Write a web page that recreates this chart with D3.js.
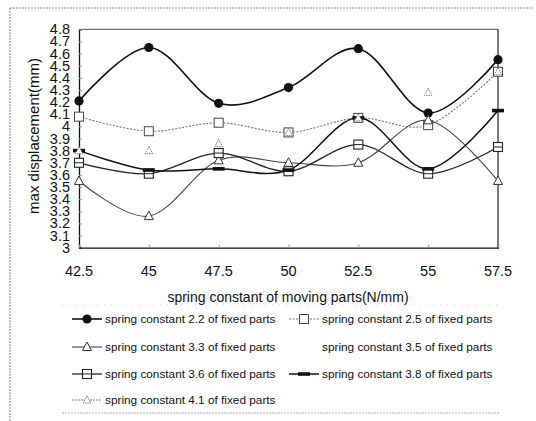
<!DOCTYPE html>
<html><head><meta charset="utf-8">
<script src="https://cdn.jsdelivr.net/npm/d3@7"></script>
<style>body{margin:0;background:#fff}svg{display:block}text{font-family:"Liberation Sans",Arial,sans-serif;fill:#111}</style>
</head><body><svg id="c" width="536" height="421"></svg>
<script>
const categories = ["42.5","45","47.5","50","52.5","55","57.5"];
const yTicks = [3,3.1,3.2,3.3,3.4,3.5,3.6,3.7,3.8,3.9,4,4.1,4.2,4.3,4.4,4.5,4.6,4.7,4.8];
const s22 = [4.21,4.65,4.19,4.32,4.64,4.11,4.55];
const s25 = [4.08,3.96,4.03,3.95,4.07,4.01,4.45];
const s33 = [3.55,3.26,3.72,3.70,3.70,4.05,3.55];
const s36 = [3.70,3.61,3.78,3.63,3.85,3.61,3.83];
const s38 = [3.80,3.64,3.65,3.64,4.07,3.65,4.13];
const s41 = [3.80,3.80,3.86,3.95,4.07,4.28,4.45];
const legendNames = ["spring constant 2.2 of fixed parts","spring constant 2.5 of fixed parts",
 "spring constant 3.3 of fixed parts","spring constant 3.5 of fixed parts",
 "spring constant 3.6 of fixed parts","spring constant 3.8 of fixed parts",
 "spring constant 4.1 of fixed parts"];
const xTitle = "spring constant of moving parts(N/mm)";
const yTitle = "max displacement(mm)";

const svg = d3.select("#c");
const L=79, R=498, T=29.3, B=247.7;
const x = d3.scalePoint().domain(categories).range([L,R]);
const y = d3.scaleLinear().domain([3,4.8]).range([B,T]);

// outer frame (scanned look)
svg.append("line").attr("x1",10).attr("x2",533).attr("y1",8).attr("y2",8).attr("stroke","#888").attr("stroke-dasharray","2,1");
svg.append("line").attr("x1",10).attr("x2",10).attr("y1",8).attr("y2",421).attr("stroke","#888").attr("stroke-dasharray","2,1");
svg.append("line").attr("x1",62).attr("x2",500).attr("y1",413).attr("y2",413).attr("stroke","#aaa").attr("stroke-dasharray","2,1");
svg.append("line").attr("x1",62).attr("x2",500).attr("y1",305).attr("y2",305).attr("stroke","#ccc").attr("stroke-dasharray","1,6");

// plot box
svg.append("line").attr("x1",L).attr("x2",R).attr("y1",T).attr("y2",T).attr("stroke","#555").attr("stroke-width",1);
svg.append("line").attr("x1",R).attr("x2",R).attr("y1",T).attr("y2",B).attr("stroke","#222").attr("stroke-width",1.2);

const ya = svg.append("g").attr("transform",`translate(${L},0)`)
  .call(d3.axisRight(y).tickValues(yTicks).tickSize(3).tickFormat(""));
ya.select(".domain").attr("stroke","#111").attr("stroke-width",1.3);
ya.selectAll(".tick line").attr("stroke","#999");
const xa = svg.append("g").attr("transform",`translate(0,${B})`)
  .call(d3.axisTop(x).tickSize(3).tickFormat(""));
xa.select(".domain").attr("stroke","#111").attr("stroke-width",1.3);
xa.selectAll(".tick line").attr("stroke","#999");

svg.append("g").selectAll("text").data(yTicks).join("text")
  .attr("x",70).attr("y",d=>y(d)+5).attr("text-anchor","end").attr("font-size",14.5)
  .text(d=>d3.format("")(d));
svg.append("g").selectAll("text").data(categories).join("text")
  .attr("x",d=>x(d)).attr("y",276).attr("text-anchor","middle").attr("font-size",14.5).text(d=>d);
svg.append("text").attr("x",288).attr("y",302).attr("text-anchor","middle").attr("font-size",14).text(xTitle);
svg.append("text").attr("transform","translate(39,136) rotate(-90)").attr("text-anchor","middle").attr("font-size",15).text(yTitle);

const line = d3.line().x((d,i)=>x(categories[i])).y(d=>y(d)).curve(d3.curveCardinal.tension(0));

const series = [
 {v:s22, stroke:"#111", w:1.6, dash:null, m:"circle"},
 {v:s25, stroke:"#777", w:1.1, dash:"2,1.5", m:"square"},
 {v:s33, stroke:"#444", w:1.1, dash:null, m:"tri"},
 {v:null, stroke:"none", w:0, dash:null, m:"none"},
 {v:s36, stroke:"#222", w:1.3, dash:null, m:"boxcross"},
 {v:s38, stroke:"#111", w:1.5, dash:null, m:"bar"},
 {v:s41, stroke:"#e4e4e4", w:0.5, dash:"1,4", m:"trismall"}
];

function marker(g, type, cx, cy){
  if(type==="circle") g.append("circle").attr("cx",cx).attr("cy",cy).attr("r",4.6).attr("fill","#111");
  else if(type==="square") g.append("rect").attr("x",cx-4.5).attr("y",cy-4.5).attr("width",9).attr("height",9).attr("fill","#fff").attr("stroke","#444").attr("stroke-width",1);
  else if(type==="tri") g.append("path").attr("d",`M${cx},${cy-5}L${cx+4.5},${cy+3.5}L${cx-4.5},${cy+3.5}Z`).attr("fill","#fff").attr("stroke","#333").attr("stroke-width",1);
  else if(type==="boxcross"){ g.append("rect").attr("x",cx-4.5).attr("y",cy-4.5).attr("width",9).attr("height",9).attr("fill","#fff").attr("stroke","#222").attr("stroke-width",1.1);
    g.append("path").attr("d",`M${cx-4.5},${cy}H${cx+4.5}`).attr("stroke","#222").attr("stroke-width",1);}
  else if(type==="bar") g.append("rect").attr("x",cx-6).attr("y",cy-1.8).attr("width",12).attr("height",3.6).attr("fill","#111");
  else if(type==="trismall") g.append("path").attr("d",`M${cx},${cy-4}L${cx+3.8},${cy+3}L${cx-3.8},${cy+3}Z`).attr("fill","#fff").attr("stroke","#666").attr("stroke-width",0.9).attr("stroke-dasharray","1.5,1");
}

const plot = svg.append("g");
series.forEach(s=>{
  if(!s.v) return;
  plot.append("path").attr("d",line(s.v)).attr("fill","none").attr("stroke",s.stroke)
    .attr("stroke-width",s.w).attr("stroke-dasharray",s.dash);
});
series.forEach(s=>{
  if(!s.v) return;
  s.v.forEach((d,i)=>marker(plot,s.m,x(categories[i]),y(d)));
});

// legend
const lg = svg.append("g");
const colX=[72,289], rowY=[319,347,374,400];
legendNames.forEach((n,i)=>{
  const cx=colX[i%2], cy=rowY[Math.floor(i/2)];
  const s=series[i];
  if(s.v){
    lg.append("line").attr("x1",cx).attr("x2",cx+30).attr("y1",cy).attr("y2",cy)
      .attr("stroke",s.m==="trismall"?"#777":s.stroke).attr("stroke-width",Math.max(s.w,1)).attr("stroke-dasharray",s.m==="trismall"?"2,1":s.dash);
    marker(lg,s.m,cx+15,cy);
  }
  lg.append("text").attr("x",cx+33).attr("y",cy+4).attr("font-size",11.8).text(n);
});
</script></body></html>
